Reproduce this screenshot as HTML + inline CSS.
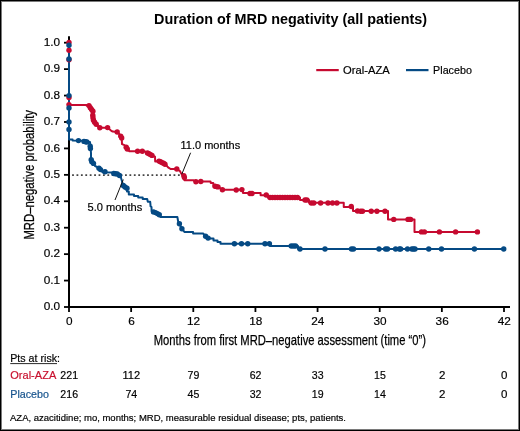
<!DOCTYPE html>
<html><head><meta charset="utf-8"><title>Duration of MRD negativity</title>
<style>
html,body{margin:0;padding:0;background:#fff;}
body{width:520px;height:431px;overflow:hidden;position:relative;}
svg{position:absolute;left:0;top:0;display:block;will-change:transform;font-family:"Liberation Sans",sans-serif;}
.frame{position:absolute;left:0;top:0;width:520px;height:431px;box-sizing:border-box;border:1px solid #000;box-shadow:inset 0 0 0 1px #7a7a7a;pointer-events:none;}
</style></head><body>
<svg width="520" height="431" viewBox="0 0 520 431"><rect x="0" y="0" width="520" height="431" fill="#fff"/><text class="b" x="154" y="23.75" font-size="14" font-weight="bold" fill="#000" textLength="273" lengthAdjust="spacingAndGlyphs">Duration of MRD negativity (all patients)</text><line x1="316.25" y1="70.1" x2="338.75" y2="70.1" stroke="#c60a30" stroke-width="2.2"/><text x="343.1" y="73.6" font-size="11" fill="#000" textLength="46.6" lengthAdjust="spacingAndGlyphs" stroke="#000" stroke-width="0.18">Oral-AZA</text><line x1="406" y1="70.1" x2="428.5" y2="70.1" stroke="#054a84" stroke-width="2.2"/><text x="433.1" y="73.6" font-size="11" fill="#000" textLength="38.8" lengthAdjust="spacingAndGlyphs" stroke="#000" stroke-width="0.18">Placebo</text><g stroke="#000" stroke-width="2" fill="none"><line x1="69" y1="36.3" x2="69" y2="307.8"/><line x1="68" y1="307" x2="510" y2="307"/><line x1="64" y1="307.00" x2="69" y2="307.00" stroke-width="1.8"/><line x1="64" y1="280.57" x2="69" y2="280.57" stroke-width="1.8"/><line x1="64" y1="254.14" x2="69" y2="254.14" stroke-width="1.8"/><line x1="64" y1="227.71" x2="69" y2="227.71" stroke-width="1.8"/><line x1="64" y1="201.28" x2="69" y2="201.28" stroke-width="1.8"/><line x1="64" y1="174.85" x2="69" y2="174.85" stroke-width="1.8"/><line x1="64" y1="148.42" x2="69" y2="148.42" stroke-width="1.8"/><line x1="64" y1="121.99" x2="69" y2="121.99" stroke-width="1.8"/><line x1="64" y1="95.56" x2="69" y2="95.56" stroke-width="1.8"/><line x1="64" y1="69.13" x2="69" y2="69.13" stroke-width="1.8"/><line x1="64" y1="42.70" x2="69" y2="42.70" stroke-width="1.8"/><line x1="69.00" y1="307" x2="69.00" y2="312" stroke-width="1.8"/><line x1="131.14" y1="307" x2="131.14" y2="312" stroke-width="1.8"/><line x1="193.29" y1="307" x2="193.29" y2="312" stroke-width="1.8"/><line x1="255.43" y1="307" x2="255.43" y2="312" stroke-width="1.8"/><line x1="317.57" y1="307" x2="317.57" y2="312" stroke-width="1.8"/><line x1="379.71" y1="307" x2="379.71" y2="312" stroke-width="1.8"/><line x1="441.86" y1="307" x2="441.86" y2="312" stroke-width="1.8"/><line x1="504.00" y1="307" x2="504.00" y2="312" stroke-width="1.8"/></g><text x="60.2" y="310.20" font-size="11.8" fill="#000" text-anchor="end" stroke="#000" stroke-width="0.18">0.0</text><text x="60.2" y="283.77" font-size="11.8" fill="#000" text-anchor="end" stroke="#000" stroke-width="0.18">0.1</text><text x="60.2" y="257.34" font-size="11.8" fill="#000" text-anchor="end" stroke="#000" stroke-width="0.18">0.2</text><text x="60.2" y="230.91" font-size="11.8" fill="#000" text-anchor="end" stroke="#000" stroke-width="0.18">0.3</text><text x="60.2" y="204.48" font-size="11.8" fill="#000" text-anchor="end" stroke="#000" stroke-width="0.18">0.4</text><text x="60.2" y="178.05" font-size="11.8" fill="#000" text-anchor="end" stroke="#000" stroke-width="0.18">0.5</text><text x="60.2" y="151.62" font-size="11.8" fill="#000" text-anchor="end" stroke="#000" stroke-width="0.18">0.6</text><text x="60.2" y="125.19" font-size="11.8" fill="#000" text-anchor="end" stroke="#000" stroke-width="0.18">0.7</text><text x="60.2" y="98.76" font-size="11.8" fill="#000" text-anchor="end" stroke="#000" stroke-width="0.18">0.8</text><text x="60.2" y="72.33" font-size="11.8" fill="#000" text-anchor="end" stroke="#000" stroke-width="0.18">0.9</text><text x="60.2" y="45.90" font-size="11.8" fill="#000" text-anchor="end" stroke="#000" stroke-width="0.18">1.0</text><text x="69.30" y="324.8" font-size="11.8" fill="#000" text-anchor="middle" stroke="#000" stroke-width="0.18">0</text><text x="131.44" y="324.8" font-size="11.8" fill="#000" text-anchor="middle" stroke="#000" stroke-width="0.18">6</text><text x="193.59" y="324.8" font-size="11.8" fill="#000" text-anchor="middle" stroke="#000" stroke-width="0.18">12</text><text x="255.73" y="324.8" font-size="11.8" fill="#000" text-anchor="middle" stroke="#000" stroke-width="0.18">18</text><text x="317.87" y="324.8" font-size="11.8" fill="#000" text-anchor="middle" stroke="#000" stroke-width="0.18">24</text><text x="380.01" y="324.8" font-size="11.8" fill="#000" text-anchor="middle" stroke="#000" stroke-width="0.18">30</text><text x="442.16" y="324.8" font-size="11.8" fill="#000" text-anchor="middle" stroke="#000" stroke-width="0.18">36</text><text x="504.30" y="324.8" font-size="11.8" fill="#000" text-anchor="middle" stroke="#000" stroke-width="0.18">42</text><text transform="translate(34.2,239.6) rotate(-90)" x="0" y="0" font-size="14.3" fill="#000" stroke="#000" stroke-width="0.25" textLength="129.6" lengthAdjust="spacingAndGlyphs">MRD–negative probability</text><text x="153.75" y="344.75" font-size="14.4" fill="#000" stroke="#000" stroke-width="0.25" textLength="272.25" lengthAdjust="spacingAndGlyphs">Months from first MRD–negative assessment (time “0”)</text><line x1="72.1" y1="175.1" x2="180" y2="175.1" stroke="#444" stroke-width="1.6" stroke-dasharray="1.8 2.61"/><text x="180.5" y="149.4" font-size="11" fill="#000" textLength="59.7" lengthAdjust="spacingAndGlyphs" stroke="#000" stroke-width="0.18">11.0 months</text><text x="87.5" y="210.6" font-size="11" fill="#000" textLength="54.8" lengthAdjust="spacingAndGlyphs" stroke="#000" stroke-width="0.18">5.0 months</text><polyline points="69.00,42.70 69.00,104.90 86.50,104.90 86.50,105.60 89.00,105.60 93.00,111.00 92.80,115.00 93.50,120.50 96.50,124.50 99.50,127.80 107.60,127.80 111.00,130.60 112.70,131.60 117.20,132.00 119.30,134.00 121.70,137.90 122.00,144.10 124.50,145.20 127.30,149.00 129.40,151.20 137.70,151.20 145.40,151.60 152.00,155.40 155.00,156.70 155.20,161.50 158.70,161.00 165.60,164.50 168.10,167.30 170.60,169.00 176.80,169.00 180.00,171.10 181.40,173.90 184.10,175.50 184.40,180.20 193.50,180.20 194.50,181.40 210.50,181.40 210.80,183.10 213.30,183.10 213.60,185.60 218.50,187.00 222.40,189.70 243.00,189.70 243.00,193.10 260.60,193.10 260.60,195.30 268.00,195.30 268.00,197.50 300.00,197.50 300.00,200.00 309.00,200.00 309.00,202.75 343.75,202.75 343.75,206.90 353.00,206.90 353.00,211.00 388.00,211.00 388.00,219.40 414.50,219.40 414.50,231.90 477.00,231.90" fill="none" stroke="#c60a30" stroke-width="2" stroke-linejoin="round"/><polyline points="69.00,42.70 69.00,139.40 72.60,139.40 72.60,140.60 83.00,140.80 86.90,141.80 90.00,142.00 90.40,146.20 90.60,148.60 91.00,153.00 91.00,159.40 93.00,163.20 95.00,166.00 98.10,167.40 101.50,170.80 102.60,172.30 111.70,172.60 113.70,173.60 118.00,174.00 120.70,176.80 122.20,182.00 122.90,186.50 127.00,188.80 127.00,191.40 128.80,191.40 128.80,194.50 134.00,194.50 134.00,195.90 138.20,195.90 138.20,197.60 142.70,197.60 142.70,199.00 147.20,199.00 147.80,201.80 150.20,201.80 150.60,206.40 151.50,207.00 151.60,211.20 153.75,211.90 157.50,213.10 160.00,215.00 160.50,217.10 177.40,217.10 178.10,221.25 179.40,223.75 181.90,228.75 184.40,231.90 193.10,231.90 193.10,233.50 203.10,233.50 205.60,236.25 208.10,238.10 209.50,238.60 213.50,238.60 213.50,240.40 217.50,240.40 217.50,242.10 220.50,242.10 220.50,243.75 269.50,243.75 270.00,246.00 298.00,246.00 298.00,249.00 504.00,249.00" fill="none" stroke="#054a84" stroke-width="2" stroke-linejoin="round"/><g fill="#c60a30"><circle cx="69.00" cy="42.50" r="2.7"/><circle cx="69.00" cy="50.20" r="2.7"/><circle cx="69.00" cy="59.80" r="2.7"/><circle cx="69.00" cy="97.50" r="2.7"/><circle cx="69.00" cy="104.60" r="2.7"/><circle cx="89.00" cy="105.60" r="2.7"/><circle cx="90.30" cy="107.80" r="2.7"/><circle cx="91.60" cy="109.50" r="2.7"/><circle cx="92.90" cy="111.20" r="2.7"/><circle cx="92.80" cy="115.20" r="2.7"/><circle cx="93.00" cy="117.80" r="2.7"/><circle cx="93.50" cy="120.20" r="2.7"/><circle cx="94.60" cy="122.20" r="2.7"/><circle cx="96.20" cy="124.20" r="2.7"/><circle cx="99.80" cy="127.80" r="2.7"/><circle cx="107.60" cy="127.60" r="2.7"/><circle cx="117.20" cy="132.00" r="2.7"/><circle cx="120.70" cy="136.10" r="2.7"/><circle cx="121.70" cy="137.90" r="2.7"/><circle cx="126.20" cy="147.30" r="2.7"/><circle cx="127.30" cy="149.00" r="2.7"/><circle cx="137.60" cy="151.30" r="2.7"/><circle cx="142.30" cy="151.30" r="2.7"/><circle cx="147.50" cy="152.90" r="2.7"/><circle cx="149.00" cy="153.80" r="2.7"/><circle cx="150.50" cy="154.60" r="2.7"/><circle cx="152.00" cy="155.40" r="2.7"/><circle cx="159.00" cy="161.10" r="2.7"/><circle cx="160.50" cy="161.80" r="2.7"/><circle cx="162.00" cy="162.60" r="2.7"/><circle cx="163.50" cy="163.30" r="2.7"/><circle cx="165.00" cy="164.20" r="2.7"/><circle cx="176.80" cy="169.00" r="2.7"/><circle cx="183.80" cy="175.60" r="2.7"/><circle cx="184.40" cy="177.50" r="2.7"/><circle cx="195.90" cy="181.70" r="2.7"/><circle cx="200.80" cy="181.50" r="2.7"/><circle cx="215.00" cy="186.30" r="2.7"/><circle cx="216.50" cy="186.60" r="2.7"/><circle cx="218.00" cy="186.90" r="2.7"/><circle cx="222.40" cy="189.70" r="2.7"/><circle cx="236.25" cy="190.00" r="2.7"/><circle cx="241.90" cy="189.60" r="2.7"/><circle cx="250.00" cy="193.50" r="2.7"/><circle cx="252.00" cy="193.50" r="2.7"/><circle cx="266.25" cy="195.00" r="2.7"/><circle cx="270.00" cy="197.50" r="2.7"/><circle cx="272.50" cy="197.50" r="2.7"/><circle cx="275.00" cy="197.50" r="2.7"/><circle cx="277.50" cy="197.50" r="2.7"/><circle cx="280.00" cy="197.50" r="2.7"/><circle cx="282.50" cy="197.50" r="2.7"/><circle cx="285.00" cy="197.50" r="2.7"/><circle cx="287.50" cy="197.50" r="2.7"/><circle cx="290.00" cy="197.50" r="2.7"/><circle cx="292.50" cy="197.50" r="2.7"/><circle cx="295.00" cy="197.50" r="2.7"/><circle cx="297.50" cy="197.50" r="2.7"/><circle cx="305.00" cy="200.00" r="2.7"/><circle cx="306.90" cy="200.00" r="2.7"/><circle cx="311.25" cy="203.00" r="2.7"/><circle cx="313.75" cy="203.00" r="2.7"/><circle cx="320.60" cy="203.00" r="2.7"/><circle cx="328.00" cy="203.00" r="2.7"/><circle cx="332.50" cy="203.00" r="2.7"/><circle cx="336.90" cy="203.00" r="2.7"/><circle cx="351.25" cy="206.50" r="2.7"/><circle cx="357.50" cy="211.00" r="2.7"/><circle cx="360.60" cy="211.25" r="2.7"/><circle cx="362.50" cy="211.25" r="2.7"/><circle cx="371.25" cy="211.25" r="2.7"/><circle cx="376.90" cy="211.25" r="2.7"/><circle cx="385.00" cy="211.25" r="2.7"/><circle cx="393.75" cy="219.40" r="2.7"/><circle cx="408.00" cy="219.40" r="2.7"/><circle cx="409.50" cy="219.40" r="2.7"/><circle cx="410.60" cy="219.40" r="2.7"/><circle cx="421.50" cy="231.90" r="2.7"/><circle cx="424.40" cy="231.90" r="2.7"/><circle cx="439.40" cy="231.90" r="2.7"/><circle cx="455.60" cy="231.90" r="2.7"/><circle cx="477.40" cy="231.90" r="2.7"/></g><g fill="#054a84"><circle cx="69.00" cy="45.30" r="2.7"/><circle cx="69.00" cy="59.00" r="2.7"/><circle cx="69.00" cy="95.60" r="2.7"/><circle cx="69.00" cy="108.00" r="2.7"/><circle cx="69.00" cy="121.90" r="2.7"/><circle cx="69.00" cy="129.40" r="2.7"/><circle cx="78.50" cy="140.60" r="2.7"/><circle cx="84.00" cy="141.40" r="2.7"/><circle cx="85.50" cy="141.80" r="2.7"/><circle cx="86.90" cy="142.00" r="2.7"/><circle cx="90.20" cy="146.20" r="2.7"/><circle cx="90.40" cy="148.60" r="2.7"/><circle cx="91.20" cy="159.80" r="2.7"/><circle cx="91.80" cy="161.80" r="2.7"/><circle cx="93.50" cy="163.40" r="2.7"/><circle cx="99.00" cy="168.20" r="2.7"/><circle cx="100.50" cy="169.60" r="2.7"/><circle cx="105.00" cy="171.80" r="2.7"/><circle cx="113.80" cy="173.50" r="2.7"/><circle cx="115.50" cy="173.80" r="2.7"/><circle cx="117.30" cy="174.00" r="2.7"/><circle cx="119.50" cy="175.50" r="2.7"/><circle cx="123.30" cy="185.50" r="2.7"/><circle cx="125.00" cy="187.00" r="2.7"/><circle cx="127.00" cy="188.30" r="2.7"/><circle cx="153.50" cy="211.90" r="2.7"/><circle cx="155.50" cy="212.60" r="2.7"/><circle cx="157.50" cy="213.60" r="2.7"/><circle cx="159.30" cy="214.80" r="2.7"/><circle cx="179.40" cy="223.75" r="2.7"/><circle cx="181.90" cy="228.75" r="2.7"/><circle cx="205.60" cy="236.25" r="2.7"/><circle cx="208.10" cy="238.10" r="2.7"/><circle cx="234.40" cy="243.75" r="2.7"/><circle cx="241.50" cy="243.75" r="2.7"/><circle cx="247.75" cy="243.75" r="2.7"/><circle cx="265.00" cy="243.75" r="2.7"/><circle cx="269.40" cy="243.75" r="2.7"/><circle cx="291.25" cy="246.00" r="2.7"/><circle cx="293.50" cy="246.00" r="2.7"/><circle cx="295.60" cy="246.00" r="2.7"/><circle cx="300.00" cy="249.00" r="2.7"/><circle cx="325.00" cy="249.00" r="2.7"/><circle cx="351.50" cy="249.00" r="2.7"/><circle cx="353.50" cy="249.00" r="2.7"/><circle cx="379.00" cy="249.00" r="2.7"/><circle cx="385.60" cy="249.00" r="2.7"/><circle cx="387.50" cy="249.00" r="2.7"/><circle cx="395.60" cy="249.00" r="2.7"/><circle cx="399.40" cy="249.00" r="2.7"/><circle cx="400.60" cy="249.00" r="2.7"/><circle cx="407.50" cy="249.00" r="2.7"/><circle cx="411.90" cy="249.00" r="2.7"/><circle cx="413.50" cy="249.00" r="2.7"/><circle cx="415.00" cy="249.00" r="2.7"/><circle cx="428.75" cy="249.00" r="2.7"/><circle cx="441.50" cy="249.00" r="2.7"/><circle cx="474.40" cy="249.00" r="2.7"/><circle cx="503.75" cy="249.00" r="2.7"/></g><line x1="190.6" y1="152.75" x2="181.8" y2="174.2" stroke="#111" stroke-width="1"/><line x1="115" y1="200" x2="123.3" y2="179.5" stroke="#111" stroke-width="1"/><text x="10.25" y="361.9" font-size="11" fill="#000" textLength="49.75" lengthAdjust="spacingAndGlyphs" stroke="#000" stroke-width="0.18">Pts at risk:</text><line x1="10.25" y1="363.6" x2="57" y2="363.6" stroke="#111" stroke-width="0.9"/><text x="10.25" y="378.75" font-size="11" fill="#c8102e" textLength="46" lengthAdjust="spacingAndGlyphs" stroke="#c8102e" stroke-width="0.18">Oral-AZA</text><text x="10.25" y="397.5" font-size="11" fill="#15528c" textLength="38.75" lengthAdjust="spacingAndGlyphs" stroke="#15528c" stroke-width="0.18">Placebo</text><text x="60.35" y="379.3" font-size="11.5" fill="#000" textLength="17.7" lengthAdjust="spacingAndGlyphs" stroke="#000" stroke-width="0.18">221</text><text x="60.35" y="397.9" font-size="11.5" fill="#000" textLength="17.7" lengthAdjust="spacingAndGlyphs" stroke="#000" stroke-width="0.18">216</text><text x="122.49" y="379.3" font-size="11.5" fill="#000" textLength="17.7" lengthAdjust="spacingAndGlyphs" stroke="#000" stroke-width="0.18">112</text><text x="125.44" y="397.9" font-size="11.5" fill="#000" textLength="11.8" lengthAdjust="spacingAndGlyphs" stroke="#000" stroke-width="0.18">74</text><text x="187.59" y="379.3" font-size="11.5" fill="#000" textLength="11.8" lengthAdjust="spacingAndGlyphs" stroke="#000" stroke-width="0.18">79</text><text x="187.59" y="397.9" font-size="11.5" fill="#000" textLength="11.8" lengthAdjust="spacingAndGlyphs" stroke="#000" stroke-width="0.18">45</text><text x="249.73" y="379.3" font-size="11.5" fill="#000" textLength="11.8" lengthAdjust="spacingAndGlyphs" stroke="#000" stroke-width="0.18">62</text><text x="249.73" y="397.9" font-size="11.5" fill="#000" textLength="11.8" lengthAdjust="spacingAndGlyphs" stroke="#000" stroke-width="0.18">32</text><text x="311.87" y="379.3" font-size="11.5" fill="#000" textLength="11.8" lengthAdjust="spacingAndGlyphs" stroke="#000" stroke-width="0.18">33</text><text x="311.87" y="397.9" font-size="11.5" fill="#000" textLength="11.8" lengthAdjust="spacingAndGlyphs" stroke="#000" stroke-width="0.18">19</text><text x="374.01" y="379.3" font-size="11.5" fill="#000" textLength="11.8" lengthAdjust="spacingAndGlyphs" stroke="#000" stroke-width="0.18">15</text><text x="374.01" y="397.9" font-size="11.5" fill="#000" textLength="11.8" lengthAdjust="spacingAndGlyphs" stroke="#000" stroke-width="0.18">14</text><text x="442.16" y="379.3" font-size="11.5" fill="#000" text-anchor="middle" stroke="#000" stroke-width="0.18">2</text><text x="442.16" y="397.9" font-size="11.5" fill="#000" text-anchor="middle" stroke="#000" stroke-width="0.18">2</text><text x="504.30" y="379.3" font-size="11.5" fill="#000" text-anchor="middle" stroke="#000" stroke-width="0.18">0</text><text x="504.30" y="397.9" font-size="11.5" fill="#000" text-anchor="middle" stroke="#000" stroke-width="0.18">0</text><text x="10" y="420.7" font-size="9.6" fill="#000" textLength="336" lengthAdjust="spacingAndGlyphs" stroke="#000" stroke-width="0.18">AZA, azacitidine; mo, months; MRD, measurable residual disease; pts, patients.</text></svg>
<div class="frame"></div>
</body></html>
